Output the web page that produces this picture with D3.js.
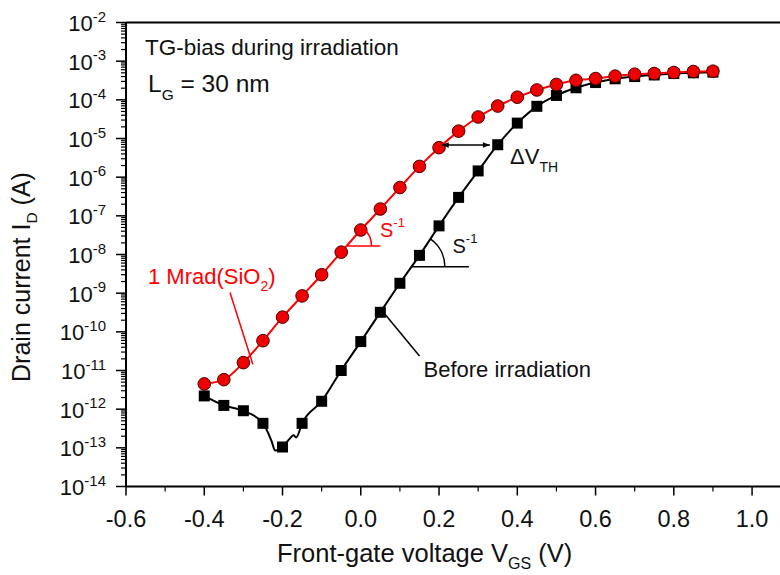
<!DOCTYPE html>
<html>
<head>
<meta charset="utf-8">
<script src="https://cdn.jsdelivr.net/npm/d3@7"></script>
<style>
  html, body { margin: 0; padding: 0; background: #fff; }
  svg { display: block; font-family: "Liberation Sans", Arial, Helvetica, sans-serif; }
</style>
</head>
<body>
<svg id="chart" width="780" height="575"></svg>
<script>
// Gate voltage sweep points (V)
const vgs = [-0.40, -0.35, -0.30, -0.25, -0.20, -0.15, -0.10, -0.05, 0.00, 0.05, 0.10, 0.15, 0.20,
             0.25, 0.30, 0.35, 0.40, 0.45, 0.50, 0.55, 0.60, 0.65, 0.70, 0.75, 0.80, 0.85, 0.90];

// Drain current before irradiation (A)
const idBefore = [2.2e-12, 1.25e-12, 9.1e-13, 4.3e-13, 1.05e-13, 4.3e-13, 1.6e-12, 1.0e-11, 5.6e-11,
                  3.2e-10, 1.8e-9, 9.5e-9, 5.5e-8, 3.0e-7, 1.45e-6, 6.9e-6, 2.5e-5, 6.8e-5, 1.3e-4,
                  2.05e-4, 2.8e-4, 3.5e-4, 4.0e-4, 4.4e-4, 4.8e-4, 5.0e-4, 5.2e-4];

// Drain current after 1 Mrad(SiO2) (A)
const idIrradiated = [4.5e-12, 5.8e-12, 1.6e-11, 5.9e-11, 2.4e-10, 8.5e-10, 3.0e-9, 1.15e-8, 4.3e-8,
                      1.5e-7, 5.4e-7, 1.9e-6, 5.8e-6, 1.55e-5, 3.6e-5, 6.9e-5, 1.17e-4, 1.8e-4, 2.5e-4,
                      3.2e-4, 3.55e-4, 4.1e-4, 4.6e-4, 4.8e-4, 5.1e-4, 5.4e-4, 5.5e-4];

// Extra measured samples of the pre-irradiation trace around the leakage minimum
const dipV = [-0.228, -0.219, -0.180, -0.172, -0.165];
const dipI = [1.5e-13, 8.5e-14, 1.8e-13, 2.1e-13, 1.85e-13];

// Axis ticks
const xTicks = [-0.6, -0.4, -0.2, 0.0, 0.2, 0.4, 0.6, 0.8, 1.0];
const xMinorTicks = [-0.5, -0.3, -0.1, 0.1, 0.3, 0.5, 0.7, 0.9];
const yExponents = [-14, -13, -12, -11, -10, -9, -8, -7, -6, -5, -4, -3, -2];

const svg = d3.select("#chart");

const x = d3.scaleLinear().domain([-0.6, 1.1]).range([126, 791.2]);
const y = d3.scaleLog().domain([1e-14, 1e-2]).range([486.5, 22.5]);

const RED = "#ff0000";
const FONT = 22;

// ---- axes ----
const axisG = svg.append("g");

// left axis line, top frame and bottom axis
axisG.append("line").attr("x1", x(-0.6)).attr("x2", x(-0.6)).attr("y1", y(1e-2)).attr("y2", y(1e-14))
  .attr("stroke", "#000").attr("stroke-width", 2);
axisG.append("line").attr("x1", x(-0.6)).attr("x2", x(1.1)).attr("y1", y(1e-2)).attr("y2", y(1e-2))
  .attr("stroke", "#000").attr("stroke-width", 2);
axisG.append("line").attr("x1", x(-0.6)).attr("x2", x(1.1)).attr("y1", y(1e-14)).attr("y2", y(1e-14))
  .attr("stroke", "#000").attr("stroke-width", 2);

// y ticks: majors + log minors, outward
yExponents.forEach(e => {
  const v = Math.pow(10, e);
  axisG.append("line").attr("x1", x(-0.6) - 10).attr("x2", x(-0.6)).attr("y1", y(v)).attr("y2", y(v))
    .attr("stroke", "#000").attr("stroke-width", 1.5);
  if (e < -2) {
    for (let k = 2; k <= 9; k++) {
      const m = k * v;
      axisG.append("line").attr("x1", x(-0.6) - 5).attr("x2", x(-0.6)).attr("y1", y(m)).attr("y2", y(m))
        .attr("stroke", "#000").attr("stroke-width", 1.2);
    }
  }
  const t = axisG.append("text").attr("x", 106).attr("y", y(v) + 8.5)
    .attr("text-anchor", "end").attr("font-size", FONT).attr("fill", "#111");
  t.append("tspan").text("10");
  t.append("tspan").attr("dy", -9.5).attr("font-size", 15).text(String(e));
});

// x ticks, outward
xTicks.forEach(v => {
  axisG.append("line").attr("x1", x(v)).attr("x2", x(v)).attr("y1", y(1e-14)).attr("y2", y(1e-14) + 9)
    .attr("stroke", "#000").attr("stroke-width", 1.5);
  axisG.append("text").attr("x", x(v)).attr("y", 526.5).attr("text-anchor", "middle")
    .attr("font-size", 23.5).attr("fill", "#111").text(v.toFixed(1));
});
xMinorTicks.forEach(v => {
  axisG.append("line").attr("x1", x(v)).attr("x2", x(v)).attr("y1", y(1e-14)).attr("y2", y(1e-14) + 5)
    .attr("stroke", "#000").attr("stroke-width", 1.2);
});

// axis titles
const xt = svg.append("text").attr("x", 277).attr("y", 561.5).attr("font-size", 25.5).attr("fill", "#111");
xt.append("tspan").text("Front-gate voltage V");
xt.append("tspan").attr("dy", 7).attr("font-size", 16).text("GS");
xt.append("tspan").attr("dy", -7).text(" (V)");

const yt = svg.append("text").attr("transform", "translate(30,277) rotate(-90)")
  .attr("text-anchor", "middle").attr("font-size", 25).attr("fill", "#111");
yt.append("tspan").text("Drain current I");
yt.append("tspan").attr("dy", 7).attr("font-size", 15.5).text("D");
yt.append("tspan").attr("dy", -7).text(" (A)");

// ---- series ----
const before = vgs.map((v, i) => ({ v, i: idBefore[i] }));
const after = vgs.map((v, i) => ({ v, i: idIrradiated[i] }));
const beforeTrace = before.concat(dipV.map((v, k) => ({ v, i: dipI[k] }))).sort((a, b) => a.v - b.v);

const line = d3.line().x(d => x(d.v)).y(d => y(d.i)).curve(d3.curveMonotoneX);

svg.append("path").datum(beforeTrace).attr("d", line)
  .attr("fill", "none").attr("stroke", "#000").attr("stroke-width", 2);
svg.append("g").selectAll("rect").data(before).join("rect")
  .attr("x", d => x(d.v) - 5.5).attr("y", d => y(d.i) - 5.5)
  .attr("width", 11).attr("height", 11).attr("fill", "#000");

svg.append("path").datum(after).attr("d", line)
  .attr("fill", "none").attr("stroke", RED).attr("stroke-width", 2);
svg.append("g").selectAll("circle").data(after).join("circle")
  .attr("cx", d => x(d.v)).attr("cy", d => y(d.i)).attr("r", 6.3)
  .attr("fill", "#ee0000").attr("stroke", "#4a0000").attr("stroke-width", 1);

// ---- annotations ----
const ann = svg.append("g");

ann.append("text").attr("x", 145).attr("y", 54.5).attr("font-size", 22.5).attr("fill", "#111")
  .text("TG-bias during irradiation");
const lg = ann.append("text").attr("x", 148).attr("y", 92).attr("font-size", 24.5).attr("fill", "#111");
lg.append("tspan").text("L");
lg.append("tspan").attr("dy", 8).attr("font-size", 15.5).text("G");
lg.append("tspan").attr("dy", -8).text(" = 30 nm");

// 1 Mrad label with leader to the irradiated trace
const mr = ann.append("text").attr("x", 148).attr("y", 283.5).attr("font-size", FONT).attr("fill", RED);
mr.append("tspan").text("1 Mrad(SiO");
mr.append("tspan").attr("dy", 7).attr("font-size", 14).text("2");
mr.append("tspan").attr("dy", -7).text(")");
const mrV = -0.276, mrI = 1.45e-11;
ann.append("line").attr("x1", 230).attr("y1", 292.5).attr("x2", x(mrV)).attr("y2", y(mrI))
  .attr("stroke", RED).attr("stroke-width", 1.5);

// Before irradiation label with leader
ann.append("text").attr("x", 423.5).attr("y", 376.5).attr("font-size", FONT).attr("fill", "#111")
  .text("Before irradiation");
ann.append("line").attr("x1", x(vgs[9]) + 3).attr("y1", y(idBefore[9])).attr("x2", 419.5).attr("y2", 356)
  .attr("stroke", "#000").attr("stroke-width", 1.5);

// ΔV_TH double arrow between the traces
const dvI = 6.8e-6;
const dvX1 = x(0.207), dvX2 = x(0.330);
const defs = svg.append("defs");
["start", "end"].forEach(k => {
  defs.append("marker").attr("id", "arr-" + k).attr("viewBox", "0 0 10 10")
    .attr("refX", k === "end" ? 10 : 0).attr("refY", 5).attr("markerWidth", 9).attr("markerHeight", 7)
    .attr("markerUnits", "userSpaceOnUse").attr("orient", "auto")
    .append("path").attr("d", k === "end" ? "M0,1 L10,5 L0,9 Z" : "M10,1 L0,5 L10,9 Z").attr("fill", "#000");
});
ann.append("line").attr("x1", dvX1).attr("x2", dvX2).attr("y1", y(dvI)).attr("y2", y(dvI))
  .attr("stroke", "#000").attr("stroke-width", 1.5)
  .attr("marker-start", "url(#arr-start)").attr("marker-end", "url(#arr-end)");
const dv = ann.append("text").attr("x", 510).attr("y", 163.5).attr("font-size", FONT).attr("fill", "#111");
dv.append("tspan").text("ΔV");
dv.append("tspan").attr("dy", 8).attr("font-size", 14).text("TH");

// Subthreshold-slope angle markers
function slopeMark(vx, iy, len, radius, angleDeg, color) {
  const px = x(vx), py = y(iy);
  const a = angleDeg * Math.PI / 180;
  ann.append("line").attr("x1", px).attr("y1", py).attr("x2", px + len).attr("y2", py)
    .attr("stroke", color).attr("stroke-width", 1.5);
  const ex = px + radius * Math.cos(a), ey = py - radius * Math.sin(a);
  ann.append("path").attr("d", `M${px + radius},${py} A${radius},${radius} 0 0 0 ${ex},${ey}`)
    .attr("fill", "none").attr("stroke", color).attr("stroke-width", 1.5);
}
slopeMark(-0.034, 1.66e-8, 33, 24, 48, RED);
slopeMark(0.128, 4.8e-9, 58, 34, 55, "#000");

const s1 = ann.append("text").attr("x", 380).attr("y", 237).attr("font-size", 20).attr("fill", RED);
s1.append("tspan").text("S");
s1.append("tspan").attr("dy", -10).attr("font-size", 13).text("-1");
const s2 = ann.append("text").attr("x", 452.5).attr("y", 253).attr("font-size", 20).attr("fill", "#111");
s2.append("tspan").text("S");
s2.append("tspan").attr("dy", -10).attr("font-size", 13).text("-1");
</script>
</body>
</html>
